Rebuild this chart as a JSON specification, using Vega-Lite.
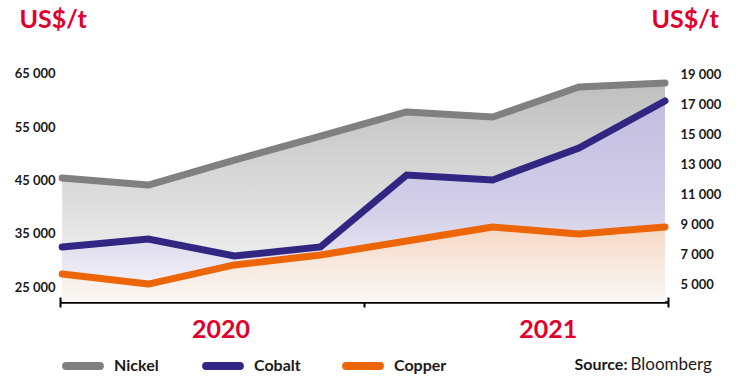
{
  "$schema": "https://vega.github.io/schema/vega-lite/v6.json",
  "width": 608,
  "height": 242,
  "autosize": {"type": "none"},
  "padding": {"left": 60, "top": 60, "right": 76, "bottom": 75},
  "background": "white",
  "config": {"view": {"stroke": null}, "font": "Lato", "axis": {"grid": false}},
  "data": {"values": [
    {"q": 0, "quarter": "Q1 2020", "series": "Nickel", "value": 12100},
    {"q": 1, "quarter": "Q2 2020", "series": "Nickel", "value": 11630},
    {"q": 2, "quarter": "Q3 2020", "series": "Nickel", "value": 13300},
    {"q": 3, "quarter": "Q4 2020", "series": "Nickel", "value": 14900},
    {"q": 4, "quarter": "Q1 2021", "series": "Nickel", "value": 16520},
    {"q": 5, "quarter": "Q2 2021", "series": "Nickel", "value": 16180},
    {"q": 6, "quarter": "Q3 2021", "series": "Nickel", "value": 18190},
    {"q": 7, "quarter": "Q4 2021", "series": "Nickel", "value": 18460},
    {"q": 0, "quarter": "Q1 2020", "series": "Cobalt", "value": 32520},
    {"q": 1, "quarter": "Q2 2020", "series": "Cobalt", "value": 34020},
    {"q": 2, "quarter": "Q3 2020", "series": "Cobalt", "value": 30830},
    {"q": 3, "quarter": "Q4 2020", "series": "Cobalt", "value": 32520},
    {"q": 4, "quarter": "Q1 2021", "series": "Cobalt", "value": 46020},
    {"q": 5, "quarter": "Q2 2021", "series": "Cobalt", "value": 45090},
    {"q": 6, "quarter": "Q3 2021", "series": "Cobalt", "value": 51090},
    {"q": 7, "quarter": "Q4 2021", "series": "Cobalt", "value": 59910},
    {"q": 0, "quarter": "Q1 2020", "series": "Copper", "value": 5670},
    {"q": 1, "quarter": "Q2 2020", "series": "Copper", "value": 5000},
    {"q": 2, "quarter": "Q3 2020", "series": "Copper", "value": 6280},
    {"q": 3, "quarter": "Q4 2020", "series": "Copper", "value": 6950},
    {"q": 4, "quarter": "Q1 2021", "series": "Copper", "value": 7880},
    {"q": 5, "quarter": "Q2 2021", "series": "Copper", "value": 8820},
    {"q": 6, "quarter": "Q3 2021", "series": "Copper", "value": 8350},
    {"q": 7, "quarter": "Q4 2021", "series": "Copper", "value": 8820}
  ]},
  "layer": [
    {
      "transform": [{"filter": "datum.series === 'Nickel'"}],
      "mark": {"type": "area", "fill": {"gradient": "linear", "x1": 0, "y1": 0, "x2": 0, "y2": 1, "stops": [{"offset": 0, "color": "#bfbfbf"}, {"offset": 1, "color": "#f8f8f8"}]}},
      "encoding": {
        "x": {"field": "q", "type": "quantitative", "scale": {"domain": [-0.025, 7.035], "nice": false, "zero": false},
          "axis": {"orient": "bottom", "values": [-0.025, 3.5, 7.035], "labels": false, "domainColor": "#000000", "domainWidth": 2.5, "tickColor": "#000000", "tickWidth": 2, "tickSize": 5,
            "title": "Source:", "titleX": 567, "titleY": 62, "titleAlign": "right", "titleBaseline": "middle", "titleFontSize": 16, "titleFontWeight": "bold", "titleColor": "#1a1a1a"}},
        "y": {"field": "value", "type": "quantitative", "scale": {"domain": [3800, 20000], "nice": false, "zero": false},
          "axis": {"orient": "right", "values": [5000, 7000, 9000, 11000, 13000, 15000, 17000, 19000], "labelExpr": "replace(format(datum.value, ','), ',', ' ')", "ticks": false, "domain": false, "labelPadding": 12, "labelFontSize": 13, "labelFontWeight": "bold", "labelColor": "#1a1a1a",
            "title": "US$/t", "titleAngle": 0, "titleX": -17, "titleY": -41, "titleAlign": "left", "titleBaseline": "middle", "titleFontSize": 25, "titleFontWeight": "bold", "titleColor": "#e1002b"}},
        "y2": {"datum": 3800}
      }
    },
    {
      "transform": [{"filter": "datum.series === 'Cobalt'"}],
      "mark": {"type": "area", "fill": {"gradient": "linear", "x1": 0, "y1": 0, "x2": 0, "y2": 1, "stops": [{"offset": 0, "color": "#c3bde0"}, {"offset": 0.55, "color": "#d3cfe8"}, {"offset": 1, "color": "#f9f8fc"}]}},
      "encoding": {
        "x": {"field": "q", "type": "quantitative", "scale": {"domain": [-0.025, 7.035], "nice": false, "zero": false},
          "axis": {"orient": "bottom", "values": [1.84, 5.64], "labelExpr": "datum.value < 3.5 ? '2020' : '2021'", "ticks": false, "tickSize": 0, "domain": false, "labelPadding": 27, "labelBaseline": "middle", "labelFlush": false, "labelFontSize": 25, "labelFontWeight": "bold", "labelColor": "#e1002b",
            "title": "Bloomberg", "titleX": 570, "titleY": 62, "titleAlign": "left", "titleBaseline": "middle", "titleFontSize": 17, "titleFontWeight": "normal", "titleColor": "#1a1a1a"}},
        "y": {"field": "value", "type": "quantitative", "scale": {"domain": [22200, 67600], "nice": false, "zero": false},
          "axis": {"orient": "left", "values": [25000, 35000, 45000, 55000, 65000], "labelExpr": "replace(format(datum.value, ','), ',', ' ')", "ticks": false, "domain": false, "labelPadding": 5, "labelFontSize": 13, "labelFontWeight": "bold", "labelColor": "#1a1a1a",
            "title": "US$/t", "titleAngle": 0, "titleX": -41, "titleY": -41, "titleAlign": "left", "titleBaseline": "middle", "titleFontSize": 25, "titleFontWeight": "bold", "titleColor": "#e1002b"}},
        "y2": {"datum": 22200}
      }
    },
    {
      "transform": [{"filter": "datum.series === 'Copper'"}],
      "mark": {"type": "area", "fill": {"gradient": "linear", "x1": 0, "y1": 0, "x2": 0, "y2": 1, "stops": [{"offset": 0, "color": "#f6d8c4"}, {"offset": 1, "color": "#faf8f7"}]}},
      "encoding": {
        "x": {"field": "q", "type": "quantitative", "scale": {"domain": [-0.025, 7.035], "nice": false, "zero": false},
          "axis": {"orient": "bottom", "values": [-0.025, 3.5, 7.035], "labels": false, "domain": false, "tickColor": "#000000", "tickWidth": 2, "tickSize": -5, "title": null}},
        "y": {"field": "value", "type": "quantitative", "scale": {"domain": [3800, 20000], "nice": false, "zero": false}, "axis": null},
        "y2": {"datum": 3800}
      }
    },
    {
      "transform": [{"filter": "datum.series === 'Nickel'"}],
      "mark": {"type": "line", "strokeWidth": 7, "strokeCap": "round", "strokeJoin": "round"},
      "encoding": {
        "x": {"field": "q", "type": "quantitative", "scale": {"domain": [-0.025, 7.035], "nice": false, "zero": false}, "axis": null},
        "y": {"field": "value", "type": "quantitative", "scale": {"domain": [3800, 20000], "nice": false, "zero": false}, "axis": null},
        "color": {"field": "series", "type": "nominal", "scale": {"domain": ["Nickel", "Cobalt", "Copper"], "range": ["#808080", "#312783", "#ec6608"]},
          "legend": {"orient": "none", "legendX": 0, "legendY": 283, "direction": "horizontal", "title": null, "padding": 0,
            "symbolType": "M-0.805,-0.095 L0.805,-0.095 A0.095,0.095 0 0 1 0.805,0.095 L-0.805,0.095 A0.095,0.095 0 0 1 -0.805,-0.095 Z",
            "symbolSize": 1764, "symbolStrokeWidth": 4, "labelFontSize": 16, "labelFontWeight": "bold", "labelColor": "#1a1a1a", "labelOffset": 8, "columnPadding": 29, "gridAlign": "all"}}
      }
    },
    {
      "transform": [{"filter": "datum.series === 'Cobalt'"}],
      "mark": {"type": "line", "strokeWidth": 7, "strokeCap": "round", "strokeJoin": "miter"},
      "encoding": {
        "x": {"field": "q", "type": "quantitative", "scale": {"domain": [-0.025, 7.035], "nice": false, "zero": false}, "axis": null},
        "y": {"field": "value", "type": "quantitative", "scale": {"domain": [22200, 67600], "nice": false, "zero": false}, "axis": null},
        "color": {"field": "series", "type": "nominal", "scale": {"domain": ["Nickel", "Cobalt", "Copper"], "range": ["#808080", "#312783", "#ec6608"]},
          "legend": {"orient": "none", "legendX": 0, "legendY": 283, "direction": "horizontal", "title": null, "padding": 0,
            "symbolType": "M-0.805,-0.095 L0.805,-0.095 A0.095,0.095 0 0 1 0.805,0.095 L-0.805,0.095 A0.095,0.095 0 0 1 -0.805,-0.095 Z",
            "symbolSize": 1764, "symbolStrokeWidth": 4, "labelFontSize": 16, "labelFontWeight": "bold", "labelColor": "#1a1a1a", "labelOffset": 8, "columnPadding": 29, "gridAlign": "all"}}
      }
    },
    {
      "transform": [{"filter": "datum.series === 'Copper'"}],
      "mark": {"type": "line", "strokeWidth": 7, "strokeCap": "round", "strokeJoin": "round"},
      "encoding": {
        "x": {"field": "q", "type": "quantitative", "scale": {"domain": [-0.025, 7.035], "nice": false, "zero": false}, "axis": null},
        "y": {"field": "value", "type": "quantitative", "scale": {"domain": [3800, 20000], "nice": false, "zero": false}, "axis": null},
        "color": {"field": "series", "type": "nominal", "scale": {"domain": ["Nickel", "Cobalt", "Copper"], "range": ["#808080", "#312783", "#ec6608"]},
          "legend": {"orient": "none", "legendX": 0, "legendY": 283, "direction": "horizontal", "title": null, "padding": 0,
            "symbolType": "M-0.805,-0.095 L0.805,-0.095 A0.095,0.095 0 0 1 0.805,0.095 L-0.805,0.095 A0.095,0.095 0 0 1 -0.805,-0.095 Z",
            "symbolSize": 1764, "symbolStrokeWidth": 4, "labelFontSize": 16, "labelFontWeight": "bold", "labelColor": "#1a1a1a", "labelOffset": 8, "columnPadding": 29, "gridAlign": "all"}}
      }
    }
  ],
  "resolve": {"scale": {"y": "independent"}, "axis": {"x": "independent", "y": "independent"}}
}
